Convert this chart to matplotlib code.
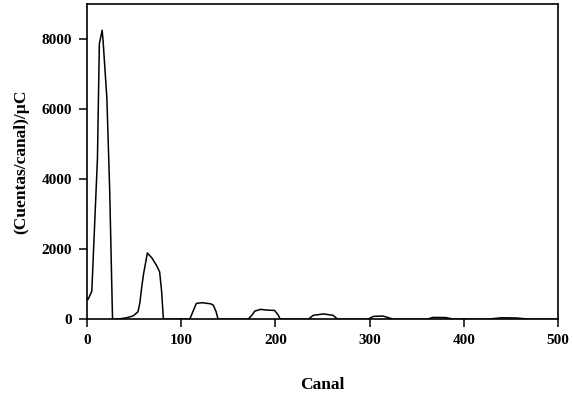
import matplotlib
matplotlib.use("Agg")
import matplotlib.pyplot as plt

channel = [0, 1, 5, 11, 13, 16, 17, 21, 24, 27,
           32, 42, 49, 54, 56, 58, 60, 64, 69, 74, 77, 79, 81,
           109, 113, 116, 122, 131, 134, 137, 139,
           171, 175, 178, 184, 191, 199, 203, 205,
           235, 240, 251, 261, 266,
           298, 304, 314, 325,
           361, 367, 381, 389,
           425, 440, 455, 470, 500]
counts = [600, 560, 800, 4600, 7860, 8250, 7940, 6300, 3660, 0,
          0, 40, 95, 210, 460, 920, 1300, 1890, 1740, 1520, 1350, 830, 0,
          0, 260, 450, 470, 440, 400, 210, 0,
          0, 115, 230, 280, 260, 250, 115, 0,
          0, 110, 150, 110, 0,
          0, 80, 90, 0,
          0, 50, 45, 0,
          0, 40, 35, 0, 0]

xticks = [0, 100, 200, 300, 400, 500]
yticks = [0, 2000, 4000, 6000, 8000]

plt.rcParams['font.family'] = ['Liberation Serif', 'DejaVu Serif']
plt.rcParams['font.weight'] = 'bold'

fig = plt.figure(figsize=(5.73, 3.96), dpi=100)
ax = fig.add_axes([0.152, 0.194, 0.822, 0.796])
ax.plot(channel, counts, color='black', lw=1.1)
ax.set_xlim(0, 500)
ax.set_ylim(0, 9000)
ax.set_xticks(xticks)
ax.set_yticks(yticks)
ax.tick_params(direction='out', length=6, width=1.1, labelsize=11, pad=5, color='black')
for lab in ax.get_xticklabels() + ax.get_yticklabels():
    lab.set_fontweight('bold')
for s in ax.spines.values():
    s.set_linewidth(1.2)
ax.set_xlabel('Canal', fontsize=12.5, fontweight='bold', labelpad=21)
ax.set_ylabel('(Cuentas/canal)/µC', fontsize=12.5, fontweight='bold', labelpad=9)
fig.savefig('out.png', dpi=100)
